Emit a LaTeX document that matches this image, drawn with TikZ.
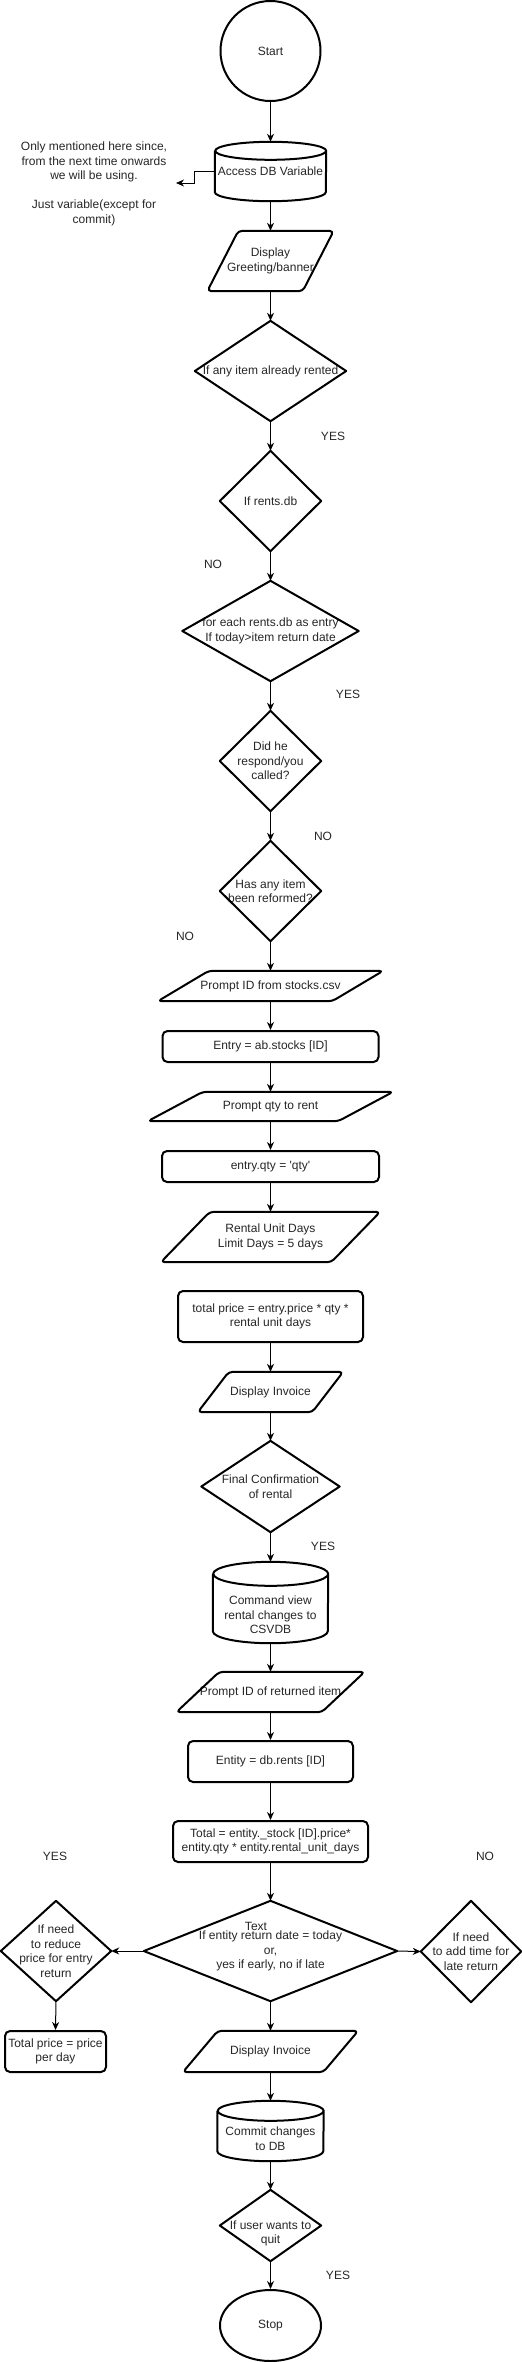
\documentclass[tikz,border=0pt]{standalone}
\usepackage{fontspec}
\newfontfamily\dio{Liberation Sans}
\usetikzlibrary{arrows.meta,shapes.geometric}
\definecolor{txtc}{gray}{0.15}
\tikzset{
  lbl/.style={font=\dio\fontsize{12}{14.5}\selectfont, text=txtc, align=center, inner sep=0pt},
  box/.style 2 args={lbl, rectangle, minimum width=#1, minimum height=#2},
  shp/.style={draw=black, line width=2pt, line join=round},
  rbox/.style={shp, rounded corners=5pt},
  conn/.style={draw=black, line width=1pt, -{Stealth[length=8pt,width=7pt,inset=2.5pt]}},
}
\newcommand{\fcDia}[1]{\draw[shp] (#1.north) -- (#1.east) -- (#1.south) -- (#1.west) -- cycle;}
\newcommand{\fcPar}[2]{\draw[shp, rounded corners=4pt] ([xshift=#2 pt]#1.north west) -- (#1.north east) -- ([xshift=-#2 pt]#1.south east) -- (#1.south west) -- cycle;}
\newcommand{\fcCyl}[3]{\draw[shp] ([yshift=-#3 pt]#1.north west) -- ([yshift=#3 pt]#1.south west) arc[start angle=180,end angle=360,x radius=#2 pt,y radius=#3 pt] -- ([yshift=-#3 pt]#1.north east) arc[start angle=0,end angle=360,x radius=#2 pt,y radius=#3 pt];}
\begin{document}
\begin{tikzpicture}[x=1pt,y=-1pt]
\useasboundingbox (0,0) rectangle (522,2362);

\node[lbl, shp, circle, minimum size=100pt] (start) at (270.5,51) {Start};

\node[box={111}{59}] (db1) at (270.5,171.5) {Access DB Variable};
\fcCyl{db1}{55.5}{9}

\node[lbl] (note) at (94,184) {Only mentioned here since,\\from the next time onwards\\we will be using.\\[14.5pt]Just variable(except for\\commit)};
\coordinate (noteend) at (176,183);

\node[box={126}{60}] (disp1) at (270.5,261) {Display\\Greeting/banner};
\fcPar{disp1}{31}

\node[box={151}{100}] (d1) at (270.5,371) {If any item already rented};
\fcDia{d1}
\node[lbl] (yes1) at (333,436) {YES};

\node[box={101}{100}] (d2) at (270.5,501) {If rents.db};
\fcDia{d2}
\node[lbl] (no1) at (213,564) {NO};

\node[box={176}{100}] (d3) at (270.5,631) {for each rents.db as entry\\If today>item return date};
\fcDia{d3}
\node[lbl] (yes2) at (348,694) {YES};

\node[box={101}{100}] (d4) at (270.5,761) {Did he\\respond/you\\called?};
\fcDia{d4}
\node[lbl] (no2) at (323,836) {NO};

\node[box={101}{100}] (d5) at (270.5,891) {Has any item\\been reformed?};
\fcDia{d5}
\node[lbl] (no3) at (185,936) {NO};

\node[box={225}{30}] (p1) at (270.5,986) {Prompt ID from stocks.csv};
\fcPar{p1}{51}

\node[box={216}{31}, rbox] (r1) at (270.5,1046.5) {Entry = ab.stocks [ID]};

\node[box={245}{29}] (p2) at (270.5,1106.5) {Prompt qty to rent};
\fcPar{p2}{55}

\node[box={217}{31}, rbox] (r2) at (270.5,1166.5) {entry.qty = 'qty'};

\node[box={219}{50}] (p3) at (270.5,1237) {Rental Unit Days\\Limit Days = 5 days};
\fcPar{p3}{49}

\node[box={185}{51}, rbox] (r3) at (270.5,1316.5) {total price = entry.price * qty *\\rental unit days};

\node[box={145}{40}] (p4) at (270.5,1392) {Display Invoice};
\fcPar{p4}{31}

\node[box={138}{91}] (d6) at (270.5,1486.5) {Final Confirmation\\of rental};
\fcDia{d6}
\node[lbl] (yes3) at (323,1546) {YES};

\node[box={115}{81}] (c2) at (270.5,1602.5) {};
\fcCyl{c2}{57.5}{12}
\node[lbl] (c2t) at (270.5,1615) {Command view\\rental changes to\\CSVDB};

\node[box={188}{40}] (p5) at (270.5,1692) {Prompt ID of returned item};
\fcPar{p5}{43}

\node[box={165}{41}, rbox] (r4) at (270.5,1761.5) {Entity = db.rents [ID]};

\node[box={195}{41}, rbox] (r5) at (270.5,1841.5) {Total = entity.\_stock [ID].price*\\entity.qty * entity.rental\_unit\_days};

\node[lbl] (yes4) at (55,1856) {YES};
\node[lbl] (no4) at (485,1856) {NO};

\node[box={253}{100}] (d7) at (270.5,1951) {If entity return date = today\\or,\\yes if early, no if late};
\fcDia{d7}
\node[lbl] (d7t) at (256,1926) {Text};

\node[box={110}{100}] (dl) at (56,1951) {If need\\to reduce\\price for entry\\return};
\fcDia{dl}

\node[box={101}{41}, rbox] (r6) at (55.5,2051.5) {Total price = price\\per day};

\node[box={100}{101}] (dr) at (471,1951.5) {If need\\to add time for\\late return};
\fcDia{dr}

\node[box={175}{41}] (p6) at (270.5,2051.5) {Display Invoice};
\fcPar{p6}{35}

\node[box={106}{60}] (c3) at (270.5,2131) {};
\fcCyl{c3}{53}{10}
\node[lbl] (c3t) at (270.5,2138.5) {Commit changes\\to DB};

\node[box={101}{71}] (d8) at (270.5,2225.5) {};
\fcDia{d8}
\node[lbl] (d8t) at (270.5,2233.5) {If user wants to\\quit};
\node[lbl] (yes5) at (338,2275) {YES};

\node[lbl, shp, ellipse, minimum width=101pt, minimum height=71pt] (stop) at (270.5,2325.5) {Stop};

% connectors
\draw[conn] (start.south) -- (db1.north);
\draw[conn] (db1.west) -- ++(-20,0) |- (noteend);
\draw[conn] (db1.south) -- (disp1.north);
\draw[conn] (disp1.south) -- (d1.north);
\draw[conn] (d1.south) -- (d2.north);
\draw[conn] (d2.south) -- (d3.north);
\draw[conn] (d3.south) -- (d4.north);
\draw[conn] (d4.south) -- (d5.north);
\draw[conn] (d5.south) -- (p1.north);
\draw[conn] (p1.south) -- (r1.north);
\draw[conn] (r1.south) -- (p2.north);
\draw[conn] (p2.south) -- (r2.north);
\draw[conn] (r2.south) -- (p3.north);
\draw[conn] (r3.south) -- (p4.north);
\draw[conn] (p4.south) -- (d6.north);
\draw[conn] (d6.south) -- (c2.north);
\draw[conn] (c2.south) -- (p5.north);
\draw[conn] (p5.south) -- (r4.north);
\draw[conn] (r4.south) -- (r5.north);
\draw[conn] (r5.south) -- (d7.north);
\draw[conn] (d7.west) -- (dl.east);
\draw[conn] (d7.east) -- (dr.west);
\draw[conn] (dl.south) -- (r6.north);
\draw[conn] (d7.south) -- (p6.north);
\draw[conn] (p6.south) -- (c3.north);
\draw[conn] (c3.south) -- (d8.north);
\draw[conn] (d8.south) -- (stop.north);
\end{tikzpicture}
\end{document}
